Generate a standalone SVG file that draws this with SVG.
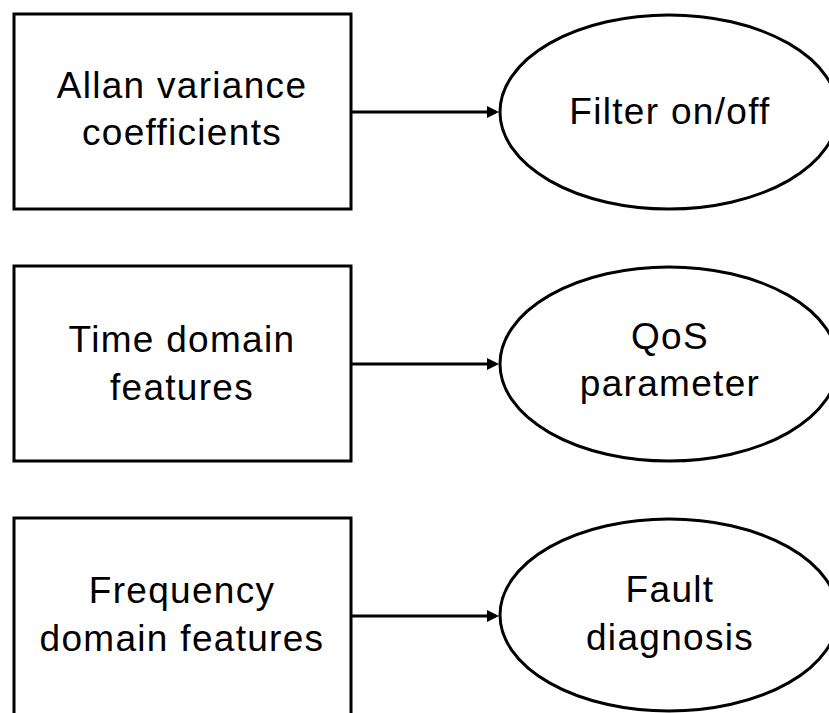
<svg xmlns="http://www.w3.org/2000/svg" width="829" height="713" viewBox="0 0 829 713">
<style>
.box{fill:#fff;stroke:#000;stroke-width:3}
.ell{fill:#fff;stroke:#000;stroke-width:3}
.t{font-family:"Liberation Sans",Arial,sans-serif;font-size:37px;letter-spacing:1.3px;fill:#000;text-anchor:middle}
.c{stroke:#000;stroke-width:3;fill:none}
</style>
<rect width="829" height="713" fill="#fff"/>
<g id="connectors">
<line class="c" x1="351" y1="112" x2="489" y2="112"/>
<path d="M487,106 L499,112 L487,118 Z"/>
<line class="c" x1="351" y1="364" x2="489" y2="364"/>
<path d="M487,358 L499,364 L487,370 Z"/>
<line class="c" x1="351" y1="616" x2="489" y2="616"/>
<path d="M487,610 L499,616 L487,622 Z"/>
</g>
<g id="n1"><rect class="box" x="14" y="14" width="337" height="195"/><text class="t" x="182" y="98">Allan variance</text><text class="t" x="182" y="145">coefficients</text></g>
<g id="n2"><rect class="box" x="14" y="266" width="337" height="195"/><text class="t" x="182" y="352">Time domain</text><text class="t" x="182" y="400">features</text></g>
<g id="n3"><rect class="box" x="14" y="518" width="337" height="197"/><text class="t" x="182" y="603">Frequency</text><text class="t" x="182" y="651">domain features</text></g>
<g id="e1"><ellipse class="ell" cx="669" cy="112" rx="169" ry="97"/><text class="t" x="670" y="124">Filter on/off</text></g>
<g id="e2"><ellipse class="ell" cx="669" cy="364" rx="169" ry="97"/><text class="t" x="670" y="349">QoS</text><text class="t" x="670" y="396">parameter</text></g>
<g id="e3"><ellipse class="ell" cx="669" cy="615" rx="169" ry="96"/><text class="t" x="670" y="602">Fault</text><text class="t" x="670" y="650">diagnosis</text></g>
</svg>
